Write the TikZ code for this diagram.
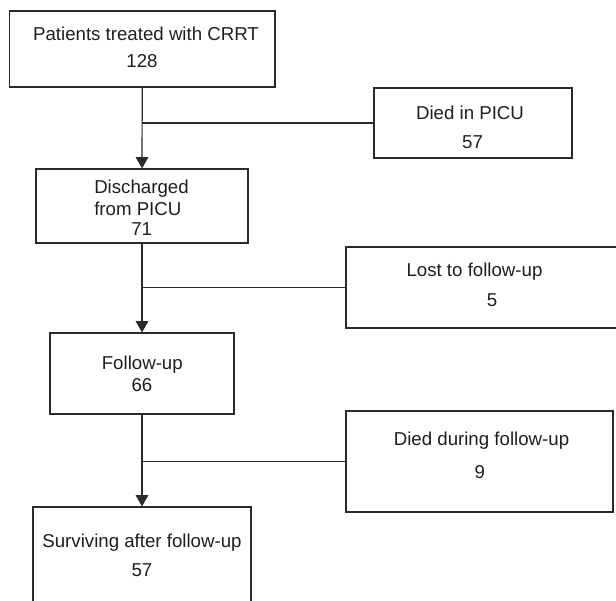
\documentclass[tikz,border=0pt]{standalone}
\usepackage{fontspec}
\setmainfont{Liberation Sans}
\usetikzlibrary{arrows.meta}
\definecolor{ln}{HTML}{2A2A2A}
\definecolor{tx}{HTML}{1E1E1E}
\tikzset{
  box/.style={draw=ln, line width=0.9pt, rectangle, inner sep=0pt},
  txt/.style={text=tx, font=\fontsize{14}{16}\selectfont, inner sep=0pt, anchor=base},
  txtw/.style={txt, anchor=base west},
  arr/.style={draw=ln, line width=0.9pt, -{Triangle[width=9.5pt,length=8.5pt]}},
  link/.style={draw=ln, line width=0.9pt}
}
\newcommand{\bx}[6]{% name, x1, y1, x2, y2
  \node[box, minimum width={(#4-#2)*0.75pt}, minimum height={(#5-#3)*0.75pt}] (#1) at ({(#2+#4)/2},{(#3+#5)/2}) {};}
\begin{document}
\begin{tikzpicture}[x=0.75pt, y=-0.75pt]
\useasboundingbox (0,0) rectangle (616,600);
\clip (0,0) rectangle (616,600);
% boxes
\bx{b1}{9.5}{11}{275}{87}{}
\bx{d1}{374}{88}{572}{158}{}
\bx{b2}{36}{169}{248}{243}{}
\bx{d2}{346}{247}{618}{328}{}
\bx{b3}{50}{333}{234}{414}{}
\bx{d3}{346}{411}{613}{512}{}
\bx{b4}{33}{507}{251}{604}{}
% texts
\node[txt] (t1a) at (146,40) {Patients treated with CRRT};
\node[txt] (t1b) at (142,67) {128};
\node[txt] (t2a) at (470,119) {Died in PICU};
\node[txt] (t2b) at (472.5,148) {57};
\node[txtw] (t3a) at (94,193) {Discharged};
\node[txtw] (t3b) at (94,215) {from PICU};
\node[txt] (t3c) at (141.7,235) {71};
\node[txt] (t4a) at (474.5,276) {Lost to follow-up};
\node[txt] (t4b) at (492,306) {5};
\node[txt] (t5a) at (142.3,369) {Follow-up};
\node[txt] (t5b) at (142,391) {66};
\node[txt] (t6a) at (481.5,445) {Died during follow-up};
\node[txt] (t6b) at (479.7,478) {9};
\node[txt] (t7a) at (142,547) {Surviving after follow-up};
\node[txt] (t7b) at (142,576) {57};
% connectors
\draw[arr] (b1.south) -- (b2.north);
\draw[link] (b1.south |- d1.west) -- (d1.west);
\draw[arr] (b2.south) -- (b3.north);
\draw[link] (b2.south |- d2.west) -- (d2.west);
\draw[arr] (b3.south) -- (b4.north);
\draw[link] (b3.south |- d3.west) -- (d3.west);
\end{tikzpicture}
\end{document}
